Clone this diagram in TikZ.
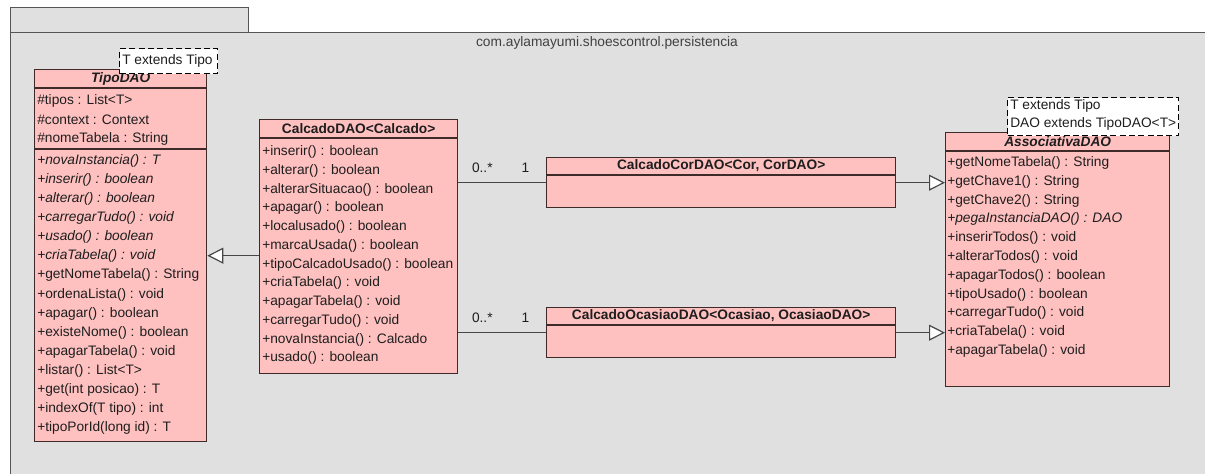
\documentclass[tikz,border=0pt]{standalone}
\usepackage{fontspec}
\setmainfont{Liberation Sans}
\usetikzlibrary{arrows.meta,calc}
\definecolor{pkgfill}{HTML}{E0E0E0}
\definecolor{pkgline}{HTML}{555555}
\definecolor{clsfill}{HTML}{FFC0C0}
\definecolor{clsline}{HTML}{3F2A2A}
\definecolor{txt}{HTML}{1E1E1E}
\definecolor{conn}{HTML}{474747}
\begin{document}
\begin{tikzpicture}[x=0.75pt,y=-0.75pt,
  every node/.style={font=\fontsize{10.3}{12}\selectfont, text=txt},
  box/.style 2 args={draw=clsline, fill=clsfill, line width=1pt, inner sep=0pt,
    anchor=north west, minimum width=#1*0.75pt, minimum height=#2*0.75pt},
  pkgbox/.style 2 args={draw=pkgline, fill=pkgfill, line width=1pt, inner sep=0pt,
    anchor=north west, minimum width=#1*0.75pt, minimum height=#2*0.75pt},
  notebox/.style 2 args={draw=black, fill=white, dashed, dash pattern=on 4.5pt off 2.5pt,
    line width=0.9pt, inner sep=0pt, anchor=north west,
    minimum width=#1*0.75pt, minimum height=#2*0.75pt},
  sep/.style={draw=clsline, line width=1pt},
  hdr/.style={inner sep=0pt, anchor=center, font=\fontsize{10.3}{12}\selectfont\bfseries},
  row/.style={inner sep=0pt, anchor=west},
  mult/.style={inner sep=0pt, anchor=center},
  gen/.style={draw=conn, line width=1pt, -{Triangle[length=12pt,width=12pt,fill=white,line width=0.9pt]}},
  assocline/.style={draw=conn, line width=1pt},
]
\useasboundingbox (0,0) rectangle (1205,474);
\clip (0,0) rectangle (1205,474);
\fill[white] (0,0) rectangle (1205,474);

% package frame: tab and body
\node[pkgbox={238}{25}] (tab) at (10,7) {};
\node[pkgbox={1200}{460}] (body) at (10,32) {};
\node[inner sep=0pt, text=txt!85] (pkgname) at (607,43) {com.aylamayumi.shoescontrol.persistencia};

% ---------- TipoDAO ----------
\node[box={172}{372}] (tipo) at (34,69) {};
\draw[sep] ($(tipo.north west)+(0,19)$) -- ($(tipo.north east)+(0,19)$);
\draw[sep] ($(tipo.north west)+(0,80)$) -- ($(tipo.north east)+(0,80)$);
\node[hdr] (tiponame) at ($(tipo.north)+(0,9.5)$) {\textit{TipoDAO}};
\foreach [count=\i] \t in {\#tipos : List<T>, \#context : Context, \#nomeTabela : String}
  \node[row] (tipoattr\i) at ($(tipo.north west)+(3,{32+19*(\i-1)})$) {\t};
\foreach [count=\i] \t in {
    \textit{+novaInstancia() : T},
    \textit{+inserir() : boolean},
    \textit{+alterar() : boolean},
    \textit{+carregarTudo() : void},
    \textit{+usado() : boolean},
    \textit{+criaTabela() : void},
    +getNomeTabela() : String,
    +ordenaLista() : void,
    +apagar() : boolean,
    +existeNome() : boolean,
    +apagarTabela() : void,
    +listar() : List<T>,
    +get(int posicao) : T,
    +indexOf(T tipo) : int,
    +tipoPorId(long id) : T}
  \node[row] (tipoop\i) at ($(tipo.north west)+(3,{92+19.07*(\i-1)})$) {\t};
\node[notebox={98}{25}] (tiponote) at (119,48) {};
\node[row] (tiponotetxt) at ($(tiponote.west)+(3,0)$) {T extends Tipo};

% ---------- CalcadoDAO ----------
\node[box={198}{254}] (calc) at (259,119) {};
\draw[sep] ($(calc.north west)+(0,19)$) -- ($(calc.north east)+(0,19)$);
\node[hdr] (calcname) at ($(calc.north)+(0,9.5)$) {CalcadoDAO<Calcado>};
\foreach [count=\i] \t in {
    +inserir() : boolean,
    +alterar() : boolean,
    +alterarSituacao() : boolean,
    +apagar() : boolean,
    +localusado() : boolean,
    +marcaUsada() : boolean,
    +tipoCalcadoUsado() : boolean,
    +criaTabela() : void,
    +apagarTabela() : void,
    +carregarTudo() : void,
    +novaInstancia() : Calcado,
    +usado() : boolean}
  \node[row] (calcop\i) at ($(calc.north west)+(3,{33+18.75*(\i-1)})$) {\t};

% ---------- CalcadoCorDAO / CalcadoOcasiaoDAO ----------
\node[box={349}{50}] (cor) at (546,157) {};
\draw[sep] ($(cor.north west)+(0,18)$) -- ($(cor.north east)+(0,18)$);
\node[hdr] (corname) at ($(cor.north)+(0,9)$) {CalcadoCorDAO<Cor, CorDAO>};

\node[box={349}{50}] (oca) at (546,307) {};
\draw[sep] ($(oca.north west)+(0,18)$) -- ($(oca.north east)+(0,18)$);
\node[hdr] (ocaname) at ($(oca.north)+(0,9)$) {CalcadoOcasiaoDAO<Ocasiao, OcasiaoDAO>};

% ---------- AssociativaDAO ----------
\node[box={224}{254}] (assoc) at (945,132) {};
\draw[sep] ($(assoc.north west)+(0,19)$) -- ($(assoc.north east)+(0,19)$);
\node[hdr] (assocname) at ($(assoc.north)+(0,9.5)$) {\textit{AssociativaDAO}};
\foreach [count=\i] \t in {
    +getNomeTabela() : String,
    +getChave1() : String,
    +getChave2() : String,
    \textit{+pegaInstanciaDAO() : DAO},
    +inserirTodos() : void,
    +alterarTodos() : void,
    +apagarTodos() : boolean,
    +tipoUsado() : boolean,
    +carregarTudo() : void,
    +criaTabela() : void,
    +apagarTabela() : void}
  \node[row] (assocop\i) at ($(assoc.north west)+(2,{31+18.8*(\i-1)})$) {\t};
\node[notebox={171}{38}] (assocnote) at (1007,97) {};
\node[row] (assocnote1) at ($(assocnote.north west)+(3,9)$) {T extends Tipo};
\node[row] (assocnote2) at ($(assocnote.north west)+(3,27)$) {DAO extends TipoDAO<T>};

% ---------- connectors ----------
\coordinate (g1) at ($(calc.west)+(0,9)$);
\draw[gen] (g1) -- (g1 -| tipo.east);

\draw[assocline] (calc.east |- cor.west) -- (cor.west);
\node[mult] (cormany) at ($(calc.east |- cor.west)+(24,-15)$) {0..*};
\node[mult] (corone) at ($(calc.east |- cor.west)+(67,-15)$) {1};

\draw[assocline] (calc.east |- oca.west) -- (oca.west);
\node[mult] (ocamany) at ($(calc.east |- oca.west)+(24,-15)$) {0..*};
\node[mult] (ocaone) at ($(calc.east |- oca.west)+(67,-15)$) {1};

\draw[gen] (cor.east) -- (cor.east -| assoc.west);
\draw[gen] (oca.east) -- (oca.east -| assoc.west);
\end{tikzpicture}
\end{document}
